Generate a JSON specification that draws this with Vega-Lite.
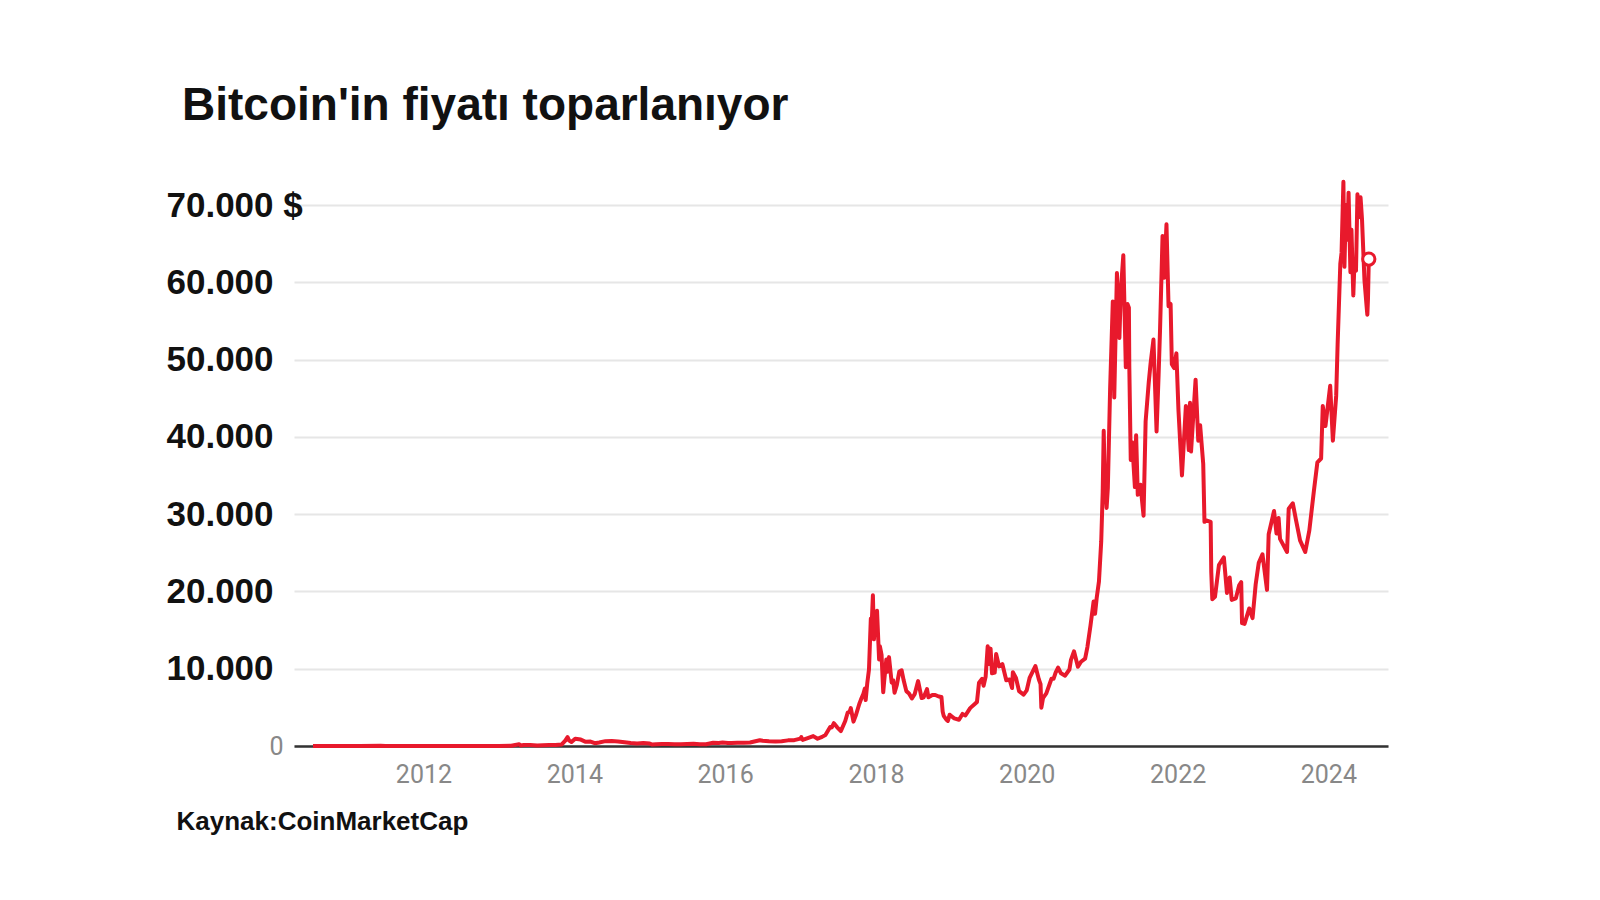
{
"$schema": "https://vega.github.io/schema/vega-lite/v6.json",
"width": 1094, "height": 541,
"autosize": {"type": "none"},
"padding": {"left": 294, "top": 205, "right": 212, "bottom": 154},
"background": "white",
"config": {"view": {"stroke": null}},
"title": {"text": "Bitcoin'in fiyatı toparlanıyor", "anchor": "start", "frame": "group", "dx": -112, "offset": 14, "font": "Liberation Sans", "fontSize": 46, "fontWeight": "bold", "color": "#111111", "baseline": "alphabetic"},
"data": {"values": [
{"d":"2010-07-15","p":0.05},{"d":"2010-10-01","p":0.06},{"d":"2011-01-01","p":0.3},{"d":"2011-03-01","p":0.9},{"d":"2011-06-08","p":29},{"d":"2011-07-01","p":15},{"d":"2011-10-01","p":5},{"d":"2011-11-18","p":2.2},{"d":"2012-01-01","p":5},{"d":"2012-06-01","p":5.3},{"d":"2012-08-17","p":13},{"d":"2012-10-01","p":12.5},{"d":"2013-01-01","p":13.3},{"d":"2013-03-01","p":34},{"d":"2013-04-09","p":230},{"d":"2013-04-16","p":68},{"d":"2013-05-01","p":117},{"d":"2013-06-01","p":129},{"d":"2013-07-05","p":68},{"d":"2013-08-01","p":97},{"d":"2013-09-01","p":138},{"d":"2013-10-01","p":125},{"d":"2013-11-01","p":206},{"d":"2013-11-18","p":700},{"d":"2013-11-29","p":1150},{"d":"2013-12-07","p":700},{"d":"2013-12-18","p":520},{"d":"2014-01-05","p":950},{"d":"2014-02-01","p":830},{"d":"2014-02-25","p":540},{"d":"2014-03-20","p":580},{"d":"2014-04-10","p":360},{"d":"2014-05-01","p":450},{"d":"2014-06-01","p":630},{"d":"2014-07-01","p":640},{"d":"2014-08-01","p":590},{"d":"2014-09-01","p":480},{"d":"2014-10-01","p":380},{"d":"2014-11-01","p":330},{"d":"2014-12-01","p":380},{"d":"2015-01-01","p":315},{"d":"2015-01-14","p":180},{"d":"2015-02-01","p":230},{"d":"2015-03-01","p":260},{"d":"2015-04-01","p":245},{"d":"2015-05-01","p":235},{"d":"2015-06-01","p":225},{"d":"2015-07-01","p":260},{"d":"2015-08-01","p":280},{"d":"2015-09-01","p":230},{"d":"2015-10-01","p":238},{"d":"2015-11-04","p":410},{"d":"2015-12-01","p":375},{"d":"2015-12-20","p":440},{"d":"2016-01-15","p":375},{"d":"2016-02-01","p":375},{"d":"2016-03-01","p":430},{"d":"2016-04-01","p":417},{"d":"2016-05-01","p":450},{"d":"2016-06-17","p":750},{"d":"2016-07-01","p":675},{"d":"2016-08-01","p":600},{"d":"2016-09-01","p":575},{"d":"2016-10-01","p":615},{"d":"2016-11-01","p":730},{"d":"2016-12-01","p":755},{"d":"2016-12-31","p":960},{"d":"2017-01-04","p":1150},{"d":"2017-01-11","p":780},{"d":"2017-02-01","p":985},{"d":"2017-03-03","p":1280},{"d":"2017-03-24","p":935},{"d":"2017-04-15","p":1180},{"d":"2017-05-01","p":1420},{"d":"2017-05-24","p":2450},{"d":"2017-06-01","p":2400},{"d":"2017-06-11","p":2950},{"d":"2017-06-27","p":2420},{"d":"2017-07-15","p":1930},{"d":"2017-07-25","p":2560},{"d":"2017-08-05","p":3230},{"d":"2017-08-17","p":4330},{"d":"2017-08-25","p":4350},{"d":"2017-09-01","p":4900},{"d":"2017-09-14","p":3150},{"d":"2017-09-25","p":3930},{"d":"2017-10-12","p":5440},{"d":"2017-10-20","p":6000},{"d":"2017-11-01","p":6750},{"d":"2017-11-08","p":7450},{"d":"2017-11-12","p":5950},{"d":"2017-11-20","p":8200},{"d":"2017-11-28","p":9900},{"d":"2017-12-07","p":16500},{"d":"2017-12-10","p":15000},{"d":"2017-12-17","p":19500},{"d":"2017-12-22","p":13800},{"d":"2017-12-27","p":15800},{"d":"2018-01-06","p":17500},{"d":"2018-01-16","p":11200},{"d":"2018-01-20","p":12900},{"d":"2018-01-28","p":11800},{"d":"2018-02-05","p":6950},{"d":"2018-02-10","p":8500},{"d":"2018-02-20","p":11200},{"d":"2018-02-25","p":9600},{"d":"2018-03-05","p":11500},{"d":"2018-03-18","p":8200},{"d":"2018-03-25","p":8500},{"d":"2018-04-01","p":6900},{"d":"2018-04-12","p":7900},{"d":"2018-04-24","p":9650},{"d":"2018-05-05","p":9800},{"d":"2018-05-15","p":8500},{"d":"2018-05-28","p":7100},{"d":"2018-06-10","p":6800},{"d":"2018-06-24","p":6150},{"d":"2018-07-08","p":6750},{"d":"2018-07-24","p":8400},{"d":"2018-08-10","p":6200},{"d":"2018-08-20","p":6300},{"d":"2018-09-05","p":7350},{"d":"2018-09-12","p":6300},{"d":"2018-10-01","p":6600},{"d":"2018-10-15","p":6600},{"d":"2018-11-01","p":6400},{"d":"2018-11-14","p":6350},{"d":"2018-11-20","p":4450},{"d":"2018-11-25","p":3900},{"d":"2018-12-08","p":3400},{"d":"2018-12-15","p":3250},{"d":"2018-12-24","p":4050},{"d":"2019-01-01","p":3850},{"d":"2019-01-15","p":3580},{"d":"2019-02-07","p":3400},{"d":"2019-02-24","p":4150},{"d":"2019-03-10","p":3950},{"d":"2019-04-02","p":4900},{"d":"2019-04-23","p":5400},{"d":"2019-05-05","p":5700},{"d":"2019-05-15","p":8200},{"d":"2019-05-30","p":8700},{"d":"2019-06-06","p":7800},{"d":"2019-06-16","p":8950},{"d":"2019-06-26","p":12900},{"d":"2019-07-02","p":10600},{"d":"2019-07-10","p":12600},{"d":"2019-07-17","p":9400},{"d":"2019-07-30","p":9500},{"d":"2019-08-06","p":11900},{"d":"2019-08-20","p":10300},{"d":"2019-09-05","p":10600},{"d":"2019-09-24","p":8500},{"d":"2019-10-10","p":8600},{"d":"2019-10-22","p":7500},{"d":"2019-10-26","p":9550},{"d":"2019-11-10","p":8800},{"d":"2019-11-25","p":7100},{"d":"2019-12-17","p":6650},{"d":"2020-01-01","p":7200},{"d":"2020-01-15","p":8800},{"d":"2020-02-12","p":10350},{"d":"2020-02-29","p":8600},{"d":"2020-03-08","p":8000},{"d":"2020-03-12","p":4950},{"d":"2020-03-20","p":6200},{"d":"2020-04-05","p":6800},{"d":"2020-04-30","p":8700},{"d":"2020-05-10","p":8700},{"d":"2020-05-20","p":9500},{"d":"2020-06-01","p":10150},{"d":"2020-06-15","p":9400},{"d":"2020-07-05","p":9100},{"d":"2020-07-26","p":9900},{"d":"2020-08-02","p":11100},{"d":"2020-08-17","p":12250},{"d":"2020-09-05","p":10250},{"d":"2020-09-20","p":10900},{"d":"2020-10-10","p":11300},{"d":"2020-10-21","p":12800},{"d":"2020-11-05","p":15600},{"d":"2020-11-20","p":18700},{"d":"2020-11-27","p":17100},{"d":"2020-12-05","p":19150},{"d":"2020-12-16","p":21300},{"d":"2020-12-27","p":26500},{"d":"2021-01-03","p":32800},{"d":"2021-01-08","p":40800},{"d":"2021-01-12","p":35500},{"d":"2021-01-22","p":30800},{"d":"2021-01-28","p":33400},{"d":"2021-02-08","p":46200},{"d":"2021-02-21","p":57500},{"d":"2021-02-28","p":45100},{"d":"2021-03-13","p":61200},{"d":"2021-03-25","p":52800},{"d":"2021-04-01","p":58900},{"d":"2021-04-13","p":63500},{"d":"2021-04-25","p":49000},{"d":"2021-05-03","p":57200},{"d":"2021-05-10","p":56700},{"d":"2021-05-12","p":49000},{"d":"2021-05-19","p":37000},{"d":"2021-05-26","p":39300},{"d":"2021-06-08","p":33500},{"d":"2021-06-14","p":40200},{"d":"2021-06-22","p":32500},{"d":"2021-07-05","p":33800},{"d":"2021-07-20","p":29800},{"d":"2021-07-30","p":42000},{"d":"2021-08-14","p":47000},{"d":"2021-08-23","p":49500},{"d":"2021-09-06","p":52600},{"d":"2021-09-21","p":40700},{"d":"2021-10-01","p":48100},{"d":"2021-10-08","p":54000},{"d":"2021-10-20","p":66000},{"d":"2021-10-28","p":60600},{"d":"2021-11-08","p":67500},{"d":"2021-11-18","p":56900},{"d":"2021-11-28","p":57200},{"d":"2021-12-04","p":49400},{"d":"2021-12-15","p":48900},{"d":"2021-12-26","p":50800},{"d":"2022-01-05","p":43500},{"d":"2022-01-22","p":35000},{"d":"2022-02-10","p":44000},{"d":"2022-02-24","p":38300},{"d":"2022-03-02","p":44400},{"d":"2022-03-07","p":38100},{"d":"2022-03-29","p":47400},{"d":"2022-04-11","p":39500},{"d":"2022-04-20","p":41500},{"d":"2022-05-05","p":36500},{"d":"2022-05-11","p":29000},{"d":"2022-05-20","p":29200},{"d":"2022-06-10","p":29000},{"d":"2022-06-13","p":22500},{"d":"2022-06-18","p":19000},{"d":"2022-07-01","p":19300},{"d":"2022-07-20","p":23400},{"d":"2022-08-13","p":24400},{"d":"2022-08-28","p":19800},{"d":"2022-09-10","p":21800},{"d":"2022-09-20","p":18900},{"d":"2022-10-10","p":19100},{"d":"2022-10-26","p":20800},{"d":"2022-11-05","p":21200},{"d":"2022-11-09","p":15900},{"d":"2022-11-21","p":15800},{"d":"2022-12-14","p":17800},{"d":"2022-12-30","p":16550},{"d":"2023-01-14","p":20900},{"d":"2023-01-29","p":23700},{"d":"2023-02-16","p":24800},{"d":"2023-03-10","p":20200},{"d":"2023-03-18","p":27400},{"d":"2023-04-13","p":30400},{"d":"2023-04-25","p":27500},{"d":"2023-05-05","p":29500},{"d":"2023-05-12","p":26800},{"d":"2023-06-15","p":25100},{"d":"2023-06-23","p":30700},{"d":"2023-07-13","p":31400},{"d":"2023-07-28","p":29300},{"d":"2023-08-17","p":26600},{"d":"2023-09-11","p":25100},{"d":"2023-10-01","p":27900},{"d":"2023-10-23","p":33000},{"d":"2023-11-09","p":36700},{"d":"2023-11-27","p":37200},{"d":"2023-12-05","p":44000},{"d":"2023-12-18","p":41400},{"d":"2024-01-10","p":46600},{"d":"2024-01-23","p":39500},{"d":"2024-02-08","p":45300},{"d":"2024-02-15","p":52000},{"d":"2024-02-28","p":62400},{"d":"2024-03-05","p":63800},{"d":"2024-03-14","p":73000},{"d":"2024-03-19","p":62000},{"d":"2024-03-26","p":70000},{"d":"2024-04-02","p":65500},{"d":"2024-04-08","p":71600},{"d":"2024-04-17","p":61300},{"d":"2024-04-22","p":66800},{"d":"2024-05-01","p":58300},{"d":"2024-05-07","p":62900},{"d":"2024-05-14","p":61500},{"d":"2024-05-21","p":71400},{"d":"2024-05-28","p":68400},{"d":"2024-06-05","p":71000},{"d":"2024-06-12","p":68200},{"d":"2024-06-24","p":60300},{"d":"2024-07-05","p":56700},{"d":"2024-07-08","p":55800},{"d":"2024-07-11","p":57800},{"d":"2024-07-15","p":63000}
]},
"layer": [
{"mark": {"type": "line", "color": "#e8192c", "strokeWidth": 4, "strokeJoin": "round"},
 "encoding": {
  "x": {"field": "d", "type": "temporal", "scale": {"domain": ["2010-04-14", "2024-10-16"]},
   "axis": {"title": "Kaynak:CoinMarketCap", "titleX": -118, "titleY": 83, "titleAlign": "left", "titleAnchor": "start", "titleBaseline": "alphabetic", "titleFont": "Liberation Sans", "titleFontSize": 26, "titleFontWeight": "bold", "titleColor": "#111111",
    "values": [{"year": 2012}, {"year": 2014}, {"year": 2016}, {"year": 2018}, {"year": 2020}, {"year": 2022}, {"year": 2024}],
    "format": "%Y", "labelFont": "Roboto", "labelFontSize": 25, "labelColor": "#888888", "labelPadding": 16, "ticks": false, "tickSize": 0, "domainColor": "#333333", "domainWidth": 2.5, "grid": false, "labelFlush": false, "labelOverlap": false}},
  "y": {"field": "p", "type": "quantitative", "scale": {"domain": [0, 70000], "nice": false},
   "axis": {"title": null, "values": [0, 10000, 20000, 30000, 40000, 50000, 60000, 70000],
    "labelExpr": "datum.value == 0 ? '0' : (datum.value / 1000) + '.000' + (datum.value == 70000 ? ' $' : '')",
    "grid": true, "gridColor": "#e6e6e6", "gridWidth": 2, "domain": false, "ticks": false, "tickSize": 0,
    "labelAlign": {"condition": {"test": "datum.value == 0", "value": "right"}, "value": "left"},
    "labelPadding": {"condition": {"test": "datum.value == 0", "value": 11}, "value": 128},
    "labelFont": {"condition": {"test": "datum.value == 0", "value": "Roboto"}, "value": "Liberation Sans"},
    "labelFontSize": {"condition": {"test": "datum.value == 0", "value": 25}, "value": 35},
    "labelFontWeight": {"condition": {"test": "datum.value == 0", "value": "normal"}, "value": "bold"},
    "labelColor": {"condition": {"test": "datum.value == 0", "value": "#888888"}, "value": "#111111"},
    "labelBaseline": "middle", "labelOverlap": false, "labelFlush": false}}
 }},
{"transform": [{"filter": "datum.p == 63000"}],
 "mark": {"type": "point", "shape": "circle", "filled": true, "fill": "white", "stroke": "#e8192c", "strokeWidth": 3, "size": 150, "opacity": 1},
 "encoding": {"x": {"field": "d", "type": "temporal"}, "y": {"field": "p", "type": "quantitative"}}}
]
}
